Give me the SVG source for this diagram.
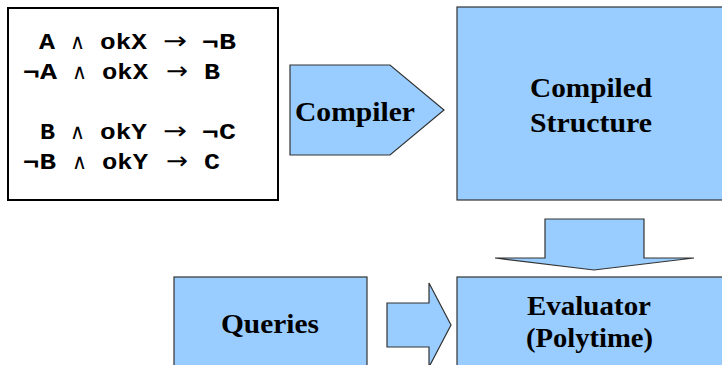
<svg xmlns="http://www.w3.org/2000/svg" width="722" height="365" viewBox="0 0 722 365">
<style>
.shape{fill:#99ccff;stroke:#333333;stroke-width:1.2}
.lbl{font-family:"Liberation Serif","DejaVu Serif","Times New Roman",serif;font-weight:bold;font-size:27px;fill:#000}
.m{font-family:"Liberation Mono","DejaVu Sans Mono","Courier New",monospace;font-weight:bold;font-size:22px;fill:#000}
.s{font-family:"DejaVu Sans","Liberation Sans",sans-serif;font-size:24px;fill:#000}
.w{font-family:"DejaVu Sans","Liberation Sans",sans-serif;font-size:21px;fill:#000}
</style>
<rect width="722" height="365" fill="#ffffff"/>
<g id="rules">
<rect x="8" y="8" width="270" height="192" fill="#ffffff" stroke="#000000" stroke-width="2"/>
<text class="m" x="39" y="49" textLength="16" lengthAdjust="spacingAndGlyphs">A</text>
<text class="w" x="70" y="49" textLength="15" lengthAdjust="spacingAndGlyphs">∧</text>
<text class="m" x="100" y="49" textLength="47" lengthAdjust="spacingAndGlyphs">okX</text>
<text class="s" x="163" y="49" textLength="24" lengthAdjust="spacingAndGlyphs">→</text>
<text class="m" x="202" y="49" textLength="34" lengthAdjust="spacingAndGlyphs">¬B</text>

<text class="m" x="23" y="79" textLength="34" lengthAdjust="spacingAndGlyphs">¬A</text>
<text class="w" x="72" y="79" textLength="15" lengthAdjust="spacingAndGlyphs">∧</text>
<text class="m" x="102" y="79" textLength="46" lengthAdjust="spacingAndGlyphs">okX</text>
<text class="s" x="166" y="79" textLength="22" lengthAdjust="spacingAndGlyphs">→</text>
<text class="m" x="204" y="79" textLength="16" lengthAdjust="spacingAndGlyphs">B</text>

<text class="m" x="40" y="139" textLength="15" lengthAdjust="spacingAndGlyphs">B</text>
<text class="w" x="70" y="139" textLength="15" lengthAdjust="spacingAndGlyphs">∧</text>
<text class="m" x="100" y="139" textLength="47" lengthAdjust="spacingAndGlyphs">okY</text>
<text class="s" x="163" y="139" textLength="24" lengthAdjust="spacingAndGlyphs">→</text>
<text class="m" x="202" y="139" textLength="34" lengthAdjust="spacingAndGlyphs">¬C</text>

<text class="m" x="23" y="169" textLength="33" lengthAdjust="spacingAndGlyphs">¬B</text>
<text class="w" x="72" y="169" textLength="15" lengthAdjust="spacingAndGlyphs">∧</text>
<text class="m" x="102" y="169" textLength="46" lengthAdjust="spacingAndGlyphs">okY</text>
<text class="s" x="166" y="169" textLength="22" lengthAdjust="spacingAndGlyphs">→</text>
<text class="m" x="204" y="169" textLength="16" lengthAdjust="spacingAndGlyphs">C</text>
</g>
<g id="compiler">
<polygon class="shape" points="290,65 390,65 444,110 390,155 290,155"/>
<text class="lbl" x="295" y="121" textLength="120" lengthAdjust="spacingAndGlyphs">Compiler</text>
</g>
<g id="compiled-structure">
<rect class="shape" x="457" y="7" width="272" height="193"/>
<text class="lbl" x="530" y="97" textLength="122" lengthAdjust="spacingAndGlyphs">Compiled</text>
<text class="lbl" x="530" y="132" textLength="122" lengthAdjust="spacingAndGlyphs">Structure</text>
</g>
<g id="down-arrow">
<polygon class="shape" points="545,219 644,219 644,258 694,258 594,270 495,258 545,258"/>
</g>
<g id="queries">
<rect class="shape" x="174" y="277" width="193" height="100"/>
<text class="lbl" x="221" y="333" textLength="98" lengthAdjust="spacingAndGlyphs">Queries</text>
</g>
<g id="right-arrow">
<polygon class="shape" points="387,303 429,303 429,283 451,325 429,367 429,347 387,347"/>
</g>
<g id="evaluator">
<rect class="shape" x="457" y="277" width="272" height="100"/>
<text class="lbl" x="527" y="315" textLength="124" lengthAdjust="spacingAndGlyphs">Evaluator</text>
<text class="lbl" x="526" y="347" textLength="127" lengthAdjust="spacingAndGlyphs">(Polytime)</text>
</g>
</svg>
